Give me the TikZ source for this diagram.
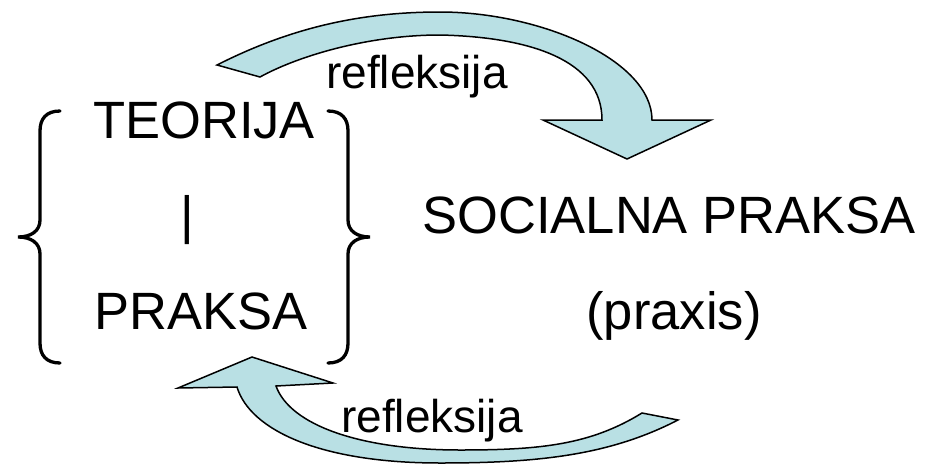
\documentclass[tikz,border=0pt]{standalone}
\usepackage{fontspec}
\setmainfont{Liberation Sans}
\definecolor{arrowfill}{RGB}{185,224,228}
\tikzset{
  bigtext/.style={anchor=base, inner sep=0pt, font=\fontsize{52.5}{60}\selectfont},
  smalltext/.style={anchor=base, inner sep=0pt, font=\fontsize{46}{54}\selectfont},
  blockarrow/.style={fill=arrowfill, draw=black, line width=1.5pt, line join=miter},
  bracestyle/.style={draw=black, line width=3.3pt, line cap=round}
}
\begin{document}
\begin{tikzpicture}[x=1pt, y=-1pt]
\useasboundingbox (0,0) rectangle (929,464);
% texts
\node[bigtext] (teorija) at (204,138) {TEORIJA};
\node[bigtext] (bar) at (187,233) {|};
\node[bigtext] (praksa) at (201,329) {PRAKSA};
\node[bigtext] (socialna) at (669,233) {SOCIALNA PRAKSA};
\node[bigtext] (praxis) at (674,329) {(praxis)};
\node[smalltext] (reftop) at (417,88) {refleksija};
\node[smalltext] (refbot) at (432,432) {refleksija};
% braces
\draw[bracestyle] (60,111) .. controls (46,111) and (40,119) .. (40,131)
  -- (40,220) .. controls (40,231) and (31,237) .. (18,237)
  .. controls (31,237) and (40,243) .. (40,254)
  -- (40,343) .. controls (40,355) and (46,363) .. (60,363);
\draw[bracestyle] (328,111) .. controls (342,111) and (348,119) .. (348,131)
  -- (348,220) .. controls (348,231) and (357,237) .. (370,237)
  .. controls (357,237) and (348,243) .. (348,254)
  -- (348,343) .. controls (348,355) and (342,363) .. (328,363);
% top curved arrow
\draw[blockarrow] (217,65) .. controls (290,28) and (360,12) .. (440,12)
  .. controls (540,12) and (652,60) .. (652,120)
  -- (711,120) -- (627,159) -- (543,120) -- (602,120)
  .. controls (602,60) and (530,37) .. (440,35)
  .. controls (370,35) and (300,55) .. (260,77) -- cycle;
% bottom curved arrow
\draw[blockarrow] (237,387) -- (178,388) -- (252,357) -- (333,383) -- (276,386)
  .. controls (290,425) and (360,450) .. (460,450)
  .. controls (540,450) and (590,445) .. (642,413)
  -- (678,420)
  .. controls (610,455) and (540,463) .. (440,463)
  .. controls (320,463) and (250,430) .. (237,387) -- cycle;
\end{tikzpicture}
\end{document}
